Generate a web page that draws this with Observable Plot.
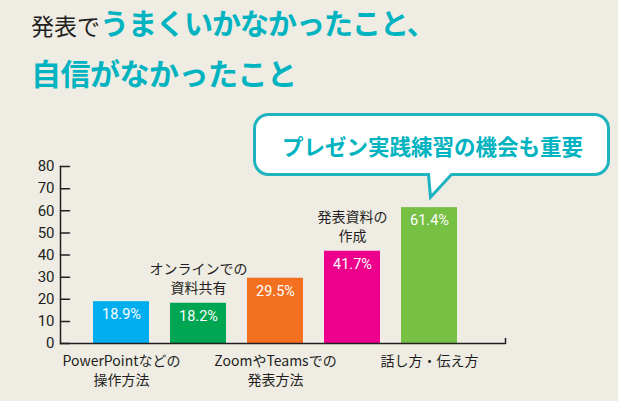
<!DOCTYPE html>
<html><head><meta charset="utf-8">
<script src="https://cdn.jsdelivr.net/npm/d3@7"></script>
<script src="https://cdn.jsdelivr.net/npm/@observablehq/plot@0.6"></script>
<style>
html,body{margin:0;padding:0;background:#efece4;}
#wrap{position:relative;width:618px;height:401px;overflow:hidden;background:#efece4;font-family:"Noto Sans CJK JP",sans-serif;}
.t1{position:absolute;top:3px;left:31px;white-space:nowrap;line-height:38px;}
.t1 .dark{font-size:23px;color:#231f20;font-weight:400;}
.teal{font-size:29px;color:#00b3c0;font-weight:700;}
.t1 .teal{letter-spacing:-1px;}
.t2{position:absolute;top:52px;left:31px;white-space:nowrap;line-height:40px;}
.t2 .teal{font-size:30px;letter-spacing:-0.5px;}
#chart{position:absolute;left:0;top:100px;}
#bubble{position:absolute;left:0;top:0;pointer-events:none;}
</style>
</head>
<body>
<div id="wrap">
  <div class="t1"><span class="dark" id="tDark"></span><span class="teal" id="tTeal1"></span></div>
  <div class="t2"><span class="teal" id="tTeal2"></span></div>
  <div id="chart"></div>
  <svg id="bubble" width="618" height="401"></svg>
</div>
<script>
const categories = ["PowerPointなどの操作方法", "オンラインでの資料共有", "ZoomやTeamsでの発表方法", "発表資料の作成", "話し方・伝え方"];
const categoryLines = ["PowerPointなどの\n操作方法", "オンラインでの\n資料共有", "ZoomやTeamsでの\n発表方法", "発表資料の\n作成", "話し方・伝え方"];
const values = [18.9, 18.2, 29.5, 41.7, 61.4];
const barColors = ["#00aeef", "#00a651", "#f37021", "#ec008c", "#76c043"];
const labelSide = ["below", "above", "below", "above", "below"];
const yTicks = [0, 10, 20, 30, 40, 50, 60, 70, 80];
const titleDark = "発表で";
const titleTeal1 = "うまくいかなかったこと、";
const titleTeal2 = "自信がなかったこと";
const calloutText = "プレゼン実践練習の機会も重要";

document.getElementById("tDark").textContent = titleDark;
document.getElementById("tTeal1").textContent = titleTeal1;
document.getElementById("tTeal2").textContent = titleTeal2;

const data = categories.map((c, i) => ({
  category: c, lines: categoryLines[i], value: values[i], color: barColors[i],
  side: labelSide[i], label: values[i].toFixed(1) + "%"
}));

const ink = "#231f20";
const font = "'Noto Sans CJK JP', sans-serif";
const numFont = "Roboto, 'Noto Sans CJK JP', sans-serif";
const tickShape = {draw(ctx, l) { ctx.moveTo(0, 0); ctx.lineTo(0, -l); }};

const chart = Plot.plot({
  width: 618, height: 301,
  marginLeft: 60, marginRight: 113, marginTop: 66, marginBottom: 58,
  style: {background: "transparent", overflow: "visible", fontFamily: font, color: ink},
  x: {type: "band", domain: categories, range: [82.5, 467.5], paddingInner: 0.27, paddingOuter: 0.135, axis: null},
  y: {domain: [0, 80], axis: null},
  color: {type: "identity"},
  marks: [
    Plot.barY(data, {x: "category", y: "value", fill: d => d.color}),
    Plot.ruleY([0], {stroke: ink, strokeWidth: 1.5}),
    Plot.frame({anchor: "left", stroke: ink, strokeWidth: 1.5}),
    Plot.vector(yTicks, {y: d => d, frameAnchor: "left", length: 9, rotate: 90, anchor: "start", shape: tickShape, stroke: ink, strokeWidth: 1.5}),
    Plot.vector([0], {y: d => d, frameAnchor: "right", length: 5, rotate: 0, anchor: "start", shape: tickShape, stroke: ink, strokeWidth: 1.5}),
    Plot.text(yTicks, {y: d => d, text: d => String(d), frameAnchor: "left", textAnchor: "end", dx: -6, fontSize: 15, fill: ink, fontFamily: numFont}),
    Plot.text(data, {x: "category", y: "value", text: "label", dy: 13, fill: "white", fontSize: 14.5, fontWeight: 400, fontFamily: numFont}),
    Plot.text(data.filter(d => d.side === "below"), {x: "category", y: 0, text: "lines", lineAnchor: "top", dy: 9, fontSize: 14, lineHeight: 1.35, fill: ink, letterSpacing: -0.3}),
    Plot.text(data.filter(d => d.side === "above"), {x: "category", y: "value", text: "lines", lineAnchor: "bottom", dy: -10, fontSize: 14, lineHeight: 1.36, fill: ink})
  ]
});
document.getElementById("chart").appendChild(chart);

// callout bubble pointing at the last bar
const xs = chart.scale("x"), ys = chart.scale("y");
const last = data[data.length - 1];
const tipX = xs.apply(last.category) + xs.bandwidth / 2 + 1.5;
const tipY = 100 + ys.apply(last.value) - 10;
const L = 254.5, R = 608.5, T = 114.5, B = 174.5, r = 14;
const p = d3.path();
p.moveTo(L + r, T);
p.lineTo(R - r, T); p.arcTo(R, T, R, T + r, r);
p.lineTo(R, B - r); p.arcTo(R, B, R - r, B, r);
p.lineTo(tipX + 21, B); p.lineTo(tipX, tipY); p.lineTo(tipX - 2, B);
p.lineTo(L + r, B); p.arcTo(L, B, L, B - r, r);
p.lineTo(L, T + r); p.arcTo(L, T, L + r, T, r);
p.closePath();
const svg = d3.select("#bubble");
svg.append("path").attr("d", p.toString()).attr("fill", "#ffffff").attr("stroke", "#1fb3bf").attr("stroke-width", 3).attr("stroke-linejoin", "miter");
svg.append("text").attr("x", (L + R) / 2 + 1).attr("y", (T + B) / 2 + 1).attr("text-anchor", "middle").attr("dominant-baseline", "central")
  .attr("font-family", font).attr("font-weight", 700).attr("font-size", 21.5).attr("fill", "#00b3c0").text(calloutText);
</script>
</body></html>
